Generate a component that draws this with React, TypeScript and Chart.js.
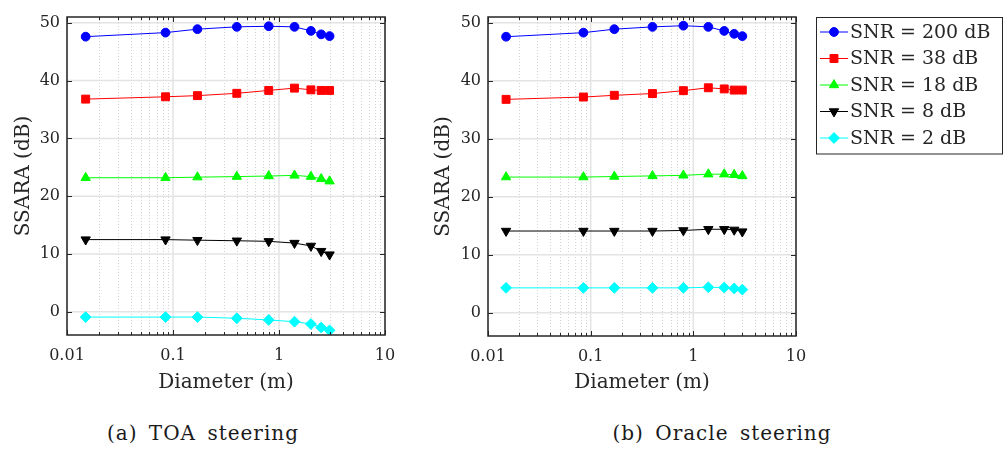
import React, { useEffect, useRef } from 'react';
import { Chart, registerables } from 'chart.js';
import { drawPoint } from 'chart.js/helpers';

Chart.register(...registerables);

// ---------- data ----------
const diameters = [0.015, 0.085, 0.17, 0.4, 0.8, 1.4, 2, 2.5, 3];

const toaSnr200 = [47.6, 48.3, 48.9, 49.3, 49.4, 49.3, 48.6, 48.0, 47.7];
const toaSnr38 = [36.8, 37.2, 37.4, 37.8, 38.3, 38.7, 38.4, 38.3, 38.3];
const toaSnr18 = [23.2, 23.2, 23.3, 23.4, 23.5, 23.6, 23.4, 23.0, 22.6];
const toaSnr8 = [12.5, 12.5, 12.4, 12.3, 12.2, 11.9, 11.4, 10.5, 9.9];
const toaSnr2 = [-0.9, -0.9, -0.9, -1.1, -1.4, -1.7, -2.1, -2.7, -3.2];

const oracleSnr200 = [47.6, 48.3, 48.9, 49.3, 49.5, 49.3, 48.6, 48.1, 47.7];
const oracleSnr38 = [36.8, 37.2, 37.5, 37.8, 38.3, 38.8, 38.6, 38.4, 38.4];
const oracleSnr18 = [23.4, 23.4, 23.5, 23.6, 23.7, 23.9, 23.9, 23.8, 23.6];
const oracleSnr8 = [14.1, 14.1, 14.1, 14.1, 14.2, 14.4, 14.4, 14.3, 14.0];
const oracleSnr2 = [4.3, 4.3, 4.3, 4.3, 4.3, 4.4, 4.35, 4.2, 4.0];

const seriesLabels = ['SNR = 200 dB', 'SNR = 38 dB', 'SNR = 18 dB', 'SNR = 8 dB', 'SNR = 2 dB'];
const xTickValues = [0.01, 0.1, 1, 10];
const xTickLabels = ['0.01', '0.1', '1', '10'];
const yTickValues = [0, 10, 20, 30, 40, 50];
const yTickLabels = ['0', '10', '20', '30', '40', '50'];
const captions = ['(a) TOA steering', '(b) Oracle steering'];
const xTitle = 'Diameter (m)';
const yTitle = 'SSARA (dB)';

// ---------- styles ----------
const FONT = "'DejaVu Serif', serif";
const AXIS = '#262626';
const seriesColors = ['#0000ff', '#ff0000', '#00ff00', '#000000', '#00ffff'];
const seriesMarkers = ['circle', 'rect', 'triangle', 'triangle', 'rectRot'];
const markerRotation = [0, 0, 0, 180, 0];
const markerRadius = [4.4, 5.6, 5.4, 5.4, 5.4];

function makeDatasets(series: number[][]) {
  return series.map((vals, i) => ({
    label: seriesLabels[i],
    data: diameters.map((d, j) => ({ x: d, y: vals[j] })),
    borderColor: seriesColors[i],
    backgroundColor: seriesColors[i],
    pointBackgroundColor: seriesColors[i],
    pointBorderColor: seriesColors[i],
    borderWidth: 1,
    pointBorderWidth: 1,
    pointStyle: seriesMarkers[i],
    pointRotation: markerRotation[i],
    pointRadius: markerRadius[i],
    tension: 0,
  }));
}

const framePlugin = {
  id: 'frame',
  beforeDatasetsDraw(chart: any) {
    const { ctx, chartArea: a, scales } = chart;
    const xs = scales.x;
    const ys = scales.y;
    ctx.save();
    ctx.strokeStyle = '#d2d2d2';
    ctx.lineWidth = 1;
    ctx.setLineDash([1, 2]);
    for (let d = -2; d <= 0; d++) {
      for (let m = 2; m <= 9; m++) {
        const px = Math.round(xs.getPixelForValue(m * Math.pow(10, d))) + 0.5;
        ctx.beginPath();
        ctx.moveTo(px, a.top);
        ctx.lineTo(px, a.bottom);
        ctx.stroke();
      }
    }
    ctx.setLineDash([]);
    ctx.strokeStyle = '#e3e3e3';
    ctx.lineWidth = 1.5;
    xTickValues.forEach((v) => {
      const px = xs.getPixelForValue(v);
      ctx.beginPath();
      ctx.moveTo(px, a.top);
      ctx.lineTo(px, a.bottom);
      ctx.stroke();
    });
    yTickValues.forEach((v) => {
      const py = ys.getPixelForValue(v);
      ctx.beginPath();
      ctx.moveTo(a.left, py);
      ctx.lineTo(a.right, py);
      ctx.stroke();
    });
    ctx.restore();
  },
  afterDatasetsDraw(chart: any) {
    const { ctx, chartArea: a, scales } = chart;
    const xs = scales.x;
    const ys = scales.y;
    ctx.save();
    ctx.strokeStyle = AXIS;
    ctx.lineWidth = 1;
    const tick = (x1: number, y1: number, x2: number, y2: number) => {
      ctx.beginPath();
      ctx.moveTo(x1, y1);
      ctx.lineTo(x2, y2);
      ctx.stroke();
    };
    for (let d = -2; d <= 0; d++) {
      for (let m = 2; m <= 9; m++) {
        const px = Math.round(xs.getPixelForValue(m * Math.pow(10, d))) + 0.5;
        tick(px, a.bottom, px, a.bottom - 3);
        tick(px, a.top, px, a.top + 3);
      }
    }
    xTickValues.forEach((v) => {
      const px = Math.round(xs.getPixelForValue(v)) + 0.5;
      tick(px, a.bottom, px, a.bottom - 5);
      tick(px, a.top, px, a.top + 5);
    });
    yTickValues.forEach((v) => {
      const py = Math.round(ys.getPixelForValue(v)) + 0.5;
      tick(a.left, py, a.left + 5, py);
      tick(a.right, py, a.right - 5, py);
    });
    ctx.lineWidth = 1.5;
    ctx.strokeRect(a.left, a.top, a.right - a.left, a.bottom - a.top);
    ctx.restore();
  },
};

const legendPlugin = {
  id: 'boxLegend',
  afterDraw(chart: any) {
    const { ctx } = chart;
    const bx = 396.5;
    const by = 17.5;
    const bw = 186;
    const bh = 136.5;
    ctx.save();
    ctx.fillStyle = '#ffffff';
    ctx.fillRect(bx, by, bw, bh);
    ctx.strokeStyle = AXIS;
    ctx.lineWidth = 1;
    ctx.strokeRect(bx, by, bw, bh);
    chart.data.datasets.forEach((ds: any, i: number) => {
      const y = 32 + i * 26.5;
      ctx.strokeStyle = ds.borderColor;
      ctx.fillStyle = ds.borderColor;
      ctx.lineWidth = 1;
      ctx.beginPath();
      ctx.moveTo(400, y);
      ctx.lineTo(428, y);
      ctx.stroke();
      drawPoint(ctx, { pointStyle: ds.pointStyle, rotation: ds.pointRotation, radius: ds.pointRadius, borderWidth: 1 }, 414, y);
      ctx.fillStyle = AXIS;
      ctx.font = `19px ${FONT}`;
      ctx.textAlign = 'left';
      ctx.textBaseline = 'middle';
      ctx.fillText(ds.label, 430, y + 1);
    });
    ctx.restore();
  },
};

function makeOptions(cfg: { top: number; right: number; xAxisHeight: number; yAxisWidth: number }) {
  return {
    animation: false,
    responsive: false,
    maintainAspectRatio: false,
    events: [],
    layout: { padding: { left: 0, top: cfg.top, right: cfg.right, bottom: 0 } },
    plugins: { legend: { display: false }, tooltip: { enabled: false } },
    scales: {
      x: {
        type: 'logarithmic',
        min: 0.01,
        max: 10,
        afterBuildTicks: (s: any) => {
          s.ticks = xTickValues.map((v) => ({ value: v }));
        },
        afterFit: (s: any) => {
          s.height = cfg.xAxisHeight;
        },
        ticks: {
          autoSkip: false,
          maxRotation: 0,
          minRotation: 0,
          padding: 11,
          color: AXIS,
          font: { family: FONT, size: 16 },
          callback: (_v: any, i: number) => xTickLabels[i],
        },
        grid: { display: false, drawTicks: false },
        border: { display: false },
        title: {
          display: true,
          text: xTitle,
          color: AXIS,
          font: { family: FONT, size: 20 },
          padding: { top: 0, bottom: 5 },
        },
      },
      y: {
        type: 'linear',
        min: -4,
        max: 51,
        afterBuildTicks: (s: any) => {
          s.ticks = yTickValues.map((v) => ({ value: v }));
        },
        afterFit: (s: any) => {
          s.width = cfg.yAxisWidth;
        },
        ticks: {
          padding: 7,
          color: AXIS,
          font: { family: FONT, size: 16 },
          callback: (_v: any, i: number) => yTickLabels[i],
        },
        grid: { display: false, drawTicks: false },
        border: { display: false },
        title: {
          display: true,
          text: yTitle,
          color: AXIS,
          font: { family: FONT, size: 20 },
          padding: { top: 12, bottom: 0 },
        },
      },
    },
  };
}

export default function App() {
  const refA = useRef<HTMLCanvasElement | null>(null);
  const refB = useRef<HTMLCanvasElement | null>(null);

  useEffect(() => {
    const chartA = new Chart(refA.current as HTMLCanvasElement, {
      type: 'line',
      data: { datasets: makeDatasets([toaSnr200, toaSnr38, toaSnr18, toaSnr8, toaSnr2]) as any },
      options: makeOptions({ top: 17, right: 25, xAxisHeight: 65, yAxisWidth: 67 }) as any,
      plugins: [framePlugin],
    });
    const chartB = new Chart(refB.current as HTMLCanvasElement, {
      type: 'line',
      data: { datasets: makeDatasets([oracleSnr200, oracleSnr38, oracleSnr18, oracleSnr8, oracleSnr2]) as any },
      options: makeOptions({ top: 17, right: 207, xAxisHeight: 64, yAxisWidth: 68 }) as any,
      plugins: [framePlugin, legendPlugin],
    });
    return () => {
      chartA.destroy();
      chartB.destroy();
    };
  }, []);

  const captionStyle = (center: number): React.CSSProperties => ({
    position: 'absolute',
    left: center - 160,
    width: 320,
    top: 423,
    textAlign: 'center',
    fontFamily: FONT,
    fontSize: 20,
    lineHeight: '20px',
    letterSpacing: '1px',
    wordSpacing: '4px',
    color: '#1a1a1a',
    whiteSpace: 'nowrap',
  });

  return (
    <div style={{ position: 'absolute', left: 0, top: 0, width: 1003, height: 451, background: '#ffffff', overflow: 'hidden' }}>
      <canvas ref={refA} width={410} height={400} style={{ position: 'absolute', left: 0, top: 0, width: 410, height: 400 }} />
      <canvas ref={refB} width={583} height={400} style={{ position: 'absolute', left: 420, top: 0, width: 583, height: 400 }} />
      <div style={captionStyle(203)}>{captions[0]}</div>
      <div style={captionStyle(722)}>{captions[1]}</div>
    </div>
  );
}
